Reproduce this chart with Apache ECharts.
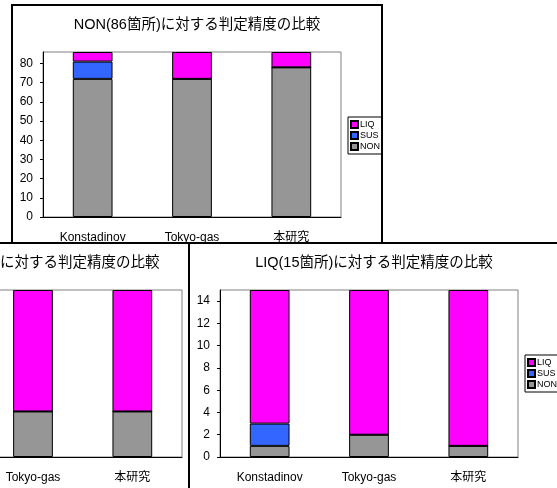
<!DOCTYPE html>
<html lang="ja">
<head>
<meta charset="UTF-8"/>
<title>判定精度の比較</title>
<style>
    * { margin: 0; padding: 0; box-sizing: border-box; }
    body { width: 557px; height: 488px; overflow: hidden; background: #fff; position: relative; }
    .frame { position: absolute; border: 2px solid #000; background: #fff; }
    .chart { width: 100%; height: 100%; }
</style>
<script src="https://cdn.jsdelivr.net/npm/echarts@6/dist/echarts.min.js"></script>
</head>
<body>
<div class="frame" style="left:11px; top:4px; width:372px; height:242px;"><div class="chart" id="chartNon"></div></div>
<div class="frame" style="left:-148px; top:242px; width:372px; height:260px;"><div class="chart" id="chartSus"></div></div>
<div class="frame" style="left:188px; top:242px; width:372px; height:260px;"><div class="chart" id="chartLiq"></div></div>
<script>
    const categories = ["Konstadinov", "Tokyo-gas", "本研究"];
    const seriesNames = ["NON", "SUS", "LIQ"];
    const legendOrder = ["LIQ", "SUS", "NON"];

    // NON(86箇所)
    const nonNON = [72, 72, 78];
    const nonSUS = [9, 0, 0];
    const nonLIQ = [5, 14, 8];

    // SUS(11箇所) - Konstadinov column is off the page in the reference
    const susNON = [2, 3, 3];
    const susSUS = [6, 0, 0];
    const susLIQ = [3, 8, 8];

    // LIQ(15箇所)
    const liqNON = [1, 2, 1];
    const liqSUS = [2, 0, 0];
    const liqLIQ = [12, 13, 14];

    const colors = { NON: "#969696", SUS: "#3366FF", LIQ: "#FF00FF" };
    const FONT = "'Liberation Sans', 'Noto Sans CJK JP', sans-serif";

    function makeOption(title, data, yMax, yInterval, gridBottom, showLegend) {
        return {
            animation: false,
            textStyle: { fontFamily: FONT },
            title: {
                text: title,
                left: "center",
                top: 12,
                padding: 0,
                textStyle: { fontSize: 14.5, fontWeight: "normal", color: "#000", fontFamily: FONT },
            },
            legend: {
                show: showLegend,
                data: legendOrder,
                orient: "vertical",
                left: 335,
                top: 111,
                itemWidth: 7,
                itemHeight: 7,
                itemGap: 2,
                padding: [3, 2, 3, 2],
                borderColor: "#000",
                borderWidth: 1,
                borderRadius: 0,
                icon: "rect",
                selectedMode: false,
                textStyle: { fontSize: 9, color: "#000", padding: [0, 0, 0, -3], fontFamily: FONT },
            },
            grid: {
                left: 30,
                right: 40,
                top: 46,
                bottom: gridBottom,
                show: true,
                borderColor: "#808080",
                borderWidth: 1,
            },
            xAxis: {
                type: "category",
                data: categories,
                axisLine: { lineStyle: { color: "#000", width: 1 } },
                axisTick: { inside: true, length: 5, lineStyle: { color: "#000" } },
                axisLabel: { fontSize: 12, color: "#000", margin: 15, fontFamily: FONT },
            },
            yAxis: {
                type: "value",
                min: 0,
                max: yMax,
                interval: yInterval,
                splitLine: { show: false },
                axisLine: { show: true, lineStyle: { color: "#000", width: 1 } },
                axisTick: { show: true, length: 3, lineStyle: { color: "#000" } },
                axisLabel: { fontSize: 12, color: "#000", margin: 10, showMaxLabel: false, fontFamily: FONT },
            },
            series: seriesNames.map((name, i) => ({
                name: name,
                type: "bar",
                stack: "total",
                barWidth: "40%",
                data: data[i],
                itemStyle: { color: colors[name], borderColor: "#000", borderWidth: 1 },
            })),
        };
    }

    echarts.init(document.getElementById("chartNon")).setOption(
        makeOption("NON(86箇所)に対する判定精度の比較", [nonNON, nonSUS, nonLIQ], 86, 10, 26, true)
    );
    echarts.init(document.getElementById("chartSus")).setOption(
        makeOption("SUS(11箇所)に対する判定精度の比較", [susNON, susSUS, susLIQ], 11, 2, 43, false)
    );
    echarts.init(document.getElementById("chartLiq")).setOption(
        makeOption("LIQ(15箇所)に対する判定精度の比較", [liqNON, liqSUS, liqLIQ], 15, 2, 43, true)
    );
</script>
</body>
</html>
